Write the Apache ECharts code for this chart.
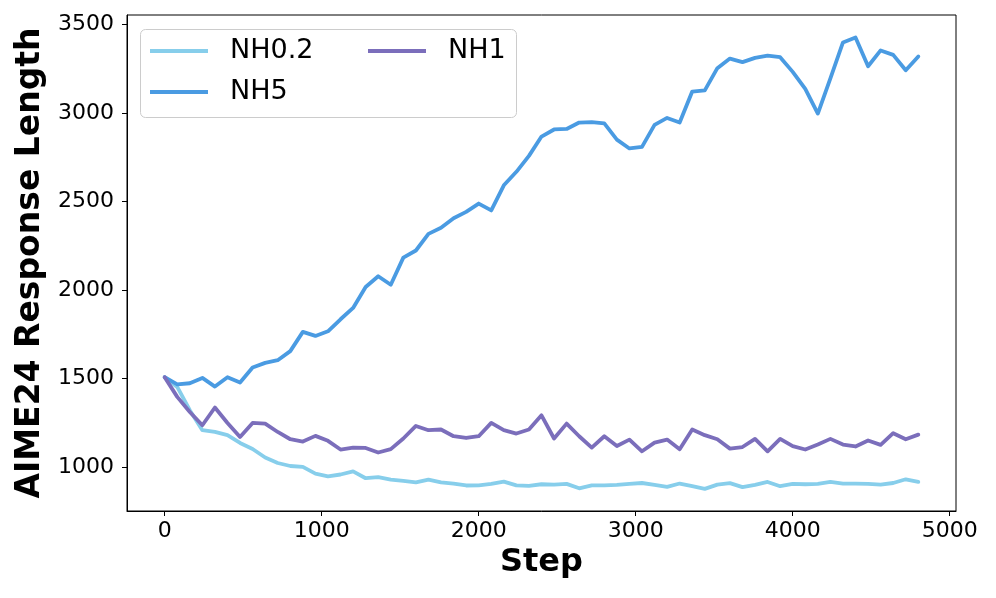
<!DOCTYPE html>
<html>
<head>
<meta charset="utf-8">
<script src="https://cdn.jsdelivr.net/npm/echarts@6/dist/echarts.min.js"></script>
<style>html,body{margin:0;padding:0;background:#fff}#c{width:996px;height:598px}</style>
</head>
<body>
<div id="c"></div>
<script>
const steps = [0,80,160,240,320,400,480,560,640,720,800,880,960,1040,1120,1200,1280,1360,1440,1520,1600,1680,1760,1840,1920,2000,2080,2160,2240,2320,2400,2480,2560,2640,2720,2800,2880,2960,3040,3120,3200,3280,3360,3440,3520,3600,3680,3760,3840,3920,4000,4080,4160,4240,4320,4400,4480,4560,4640,4720,4800];
const nh02 = [1508,1453,1322,1209,1199,1181,1137,1103,1055,1024,1007,1002,964,949,959,977,938,944,930,923,914,930,914,908,897,898,906,919,898,895,904,902,906,881,898,898,900,906,911,900,889,908,893,878,902,910,888,901,917,893,906,904,906,917,908,908,906,902,911,932,917];
const nh5 = [1508,1468,1474,1504,1455,1508,1478,1563,1589,1604,1655,1764,1741,1767,1835,1899,2017,2078,2030,2183,2223,2317,2351,2405,2441,2488,2449,2591,2667,2757,2866,2906,2909,2945,2947,2940,2849,2799,2808,2932,2971,2945,3120,3127,3252,3306,3286,3310,3323,3314,3231,3135,2996,3195,3397,3425,3263,3352,3327,3240,3318];
const nh1 = [1508,1397,1312,1237,1337,1250,1171,1250,1246,1199,1158,1145,1177,1149,1100,1110,1109,1083,1102,1162,1233,1209,1213,1175,1165,1175,1250,1209,1190,1213,1293,1162,1246,1175,1111,1175,1120,1156,1090,1139,1156,1102,1213,1181,1158,1105,1114,1160,1090,1160,1119,1100,1128,1160,1128,1117,1151,1126,1192,1158,1184];
const xTicks = [0,1000,2000,3000,4000,5000];
const yTicks = [1000,1500,2000,2500,3000,3500];
const seriesNames = ['NH0.2','NH5','NH1'];
const colors = ['#87CEEB','#4A9BE2','#7B6EBB'];

const FONT = 'DejaVu Sans';
function pairs(vals){ return steps.map((s,i)=>[s, vals[i]]); }
const allVals = [nh02, nh5, nh1];
const plain = v => String(v);

const chart = echarts.init(document.getElementById('c'), null, {renderer:'canvas'});
const legendCommon = {
  orient:'vertical', padding:0, itemWidth:58, itemHeight:4, icon:'rect', itemGap:11,
  textStyle:{fontFamily:FONT, fontSize:27, color:'#000', lineHeight:30, padding:[0,0,0,17]},
  selectedMode:false
};
chart.setOption({
  animation:false,
  backgroundColor:'#fff',
  grid:{left:127, right:40, top:15, bottom:87, show:true, borderColor:'#000', borderWidth:1, backgroundColor:'transparent'},
  graphic:[{type:'rect', z:3, shape:{x:140.5, y:29.5, width:376, height:88, r:5}, style:{fill:'rgba(255,255,255,0.8)', stroke:'#cccccc', lineWidth:1}}],
  legend:[
    Object.assign({left:150, top:36, data:[seriesNames[0], seriesNames[1]], z:5}, legendCommon),
    Object.assign({left:368, top:36, data:[seriesNames[2]], z:5}, legendCommon)
  ],
  xAxis:{
    type:'value', min:-240, max:5040,
    name:'Step', nameLocation:'middle', nameGap:32,
    nameTextStyle:{fontFamily:FONT, fontSize:32, fontWeight:'bold', color:'#000'},
    axisLine:{show:true, onZero:false, lineStyle:{color:'#000', width:1}},
    axisTick:{show:true, length:5, lineStyle:{color:'#000'}, customValues:xTicks},
    axisLabel:{fontFamily:FONT, fontSize:22, color:'#000', margin:9, customValues:xTicks, formatter:plain},
    splitLine:{show:false}
  },
  yAxis:{
    type:'value', min:753, max:3552,
    name:'AIME24 Response Length', nameLocation:'middle', nameGap:76, nameRotate:90,
    nameTextStyle:{fontFamily:FONT, fontSize:33, fontWeight:'bold', color:'#000'},
    axisLine:{show:true, onZero:false, lineStyle:{color:'#000', width:1}},
    axisTick:{show:true, length:5, lineStyle:{color:'#000'}, customValues:yTicks},
    axisLabel:{fontFamily:FONT, fontSize:22, color:'#000', margin:13, customValues:yTicks, formatter:plain},
    splitLine:{show:false}
  },
  series: seriesNames.map((n,i)=>({
    name:n, type:'line', data:pairs(allVals[i]), showSymbol:false, symbol:'none',
    lineStyle:{color:colors[i], width:3.8, join:'round', cap:'round'},
    itemStyle:{color:colors[i]}, z:2+i
  }))
});
</script>
</body>
</html>
